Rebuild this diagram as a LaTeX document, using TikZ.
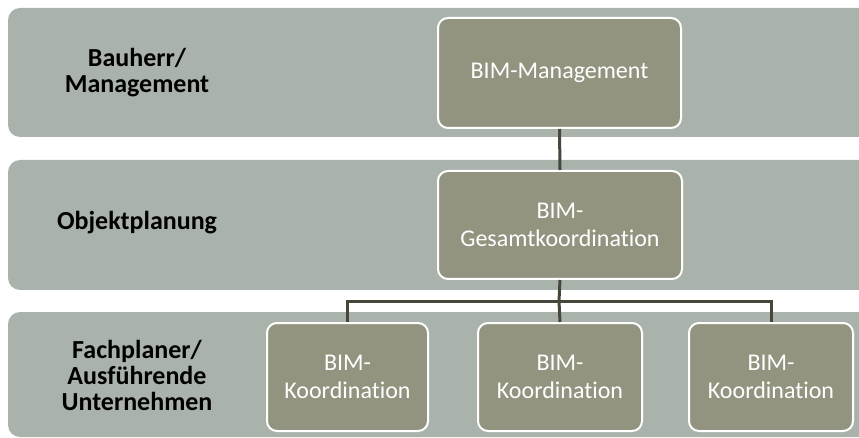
\documentclass[tikz,border=0pt]{standalone}
\usepackage{fontspec}
\setmainfont{Carlito}[RawFeature=-liga]
\definecolor{bandfill}{HTML}{AAB3AB}
\definecolor{boxfill}{HTML}{939480}
\definecolor{linkcol}{HTML}{46463B}
\tikzset{
  band/.style={fill=bandfill, draw=none, rounded corners=12pt},
  rolebox/.style={draw=white, line width=2pt, fill=boxfill, rounded corners=10pt,
    text=white, align=center, inner sep=0pt,
    font=\fontsize{24}{28}\selectfont},
  bandlabel/.style={align=center, font=\bfseries\fontsize{26}{26}\selectfont, text=black},
  link/.style={draw=linkcol, line width=3pt}
}
\begin{document}
\begin{tikzpicture}[x=1pt,y=-1pt]
  \useasboundingbox (0,0) rectangle (859,438);
  % horizontal bands, open to the right edge
  \begin{scope}
    \clip (0,0) rectangle (859,438);
    \fill[band] (8,8) rectangle (880,137);
    \fill[band] (8,160) rectangle (880,290);
    \fill[band] (8,312) rectangle (880,437);
  \end{scope}
  % band labels
  \node[bandlabel] (lab1) at (137,73) {Bauherr/\\Management};
  \node[bandlabel] (lab2) at (137,223) {Objektplanung};
  \node[bandlabel] (lab3) at (137,375) {Fachplaner/\\Ausführende\\Unternehmen};
  % role boxes
  \node[rolebox, minimum width=243pt, minimum height=110pt] (mgmt) at (559.5,73) {BIM-Management};
  \node[rolebox, minimum width=244pt, minimum height=108pt] (gesamt) at (560,225) {BIM-\\Gesamtkoordination};
  \node[rolebox, minimum width=161pt, minimum height=108pt] (k1) at (347.5,377) {BIM-\\Koordination};
  \node[rolebox, minimum width=164pt, minimum height=108pt] (k2) at (560,377) {BIM-\\Koordination};
  \node[rolebox, minimum width=164pt, minimum height=108pt] (k3) at (771,377) {BIM-\\Koordination};
  % connectors
  \coordinate (bus) at (559,301);
  \draw[link] (mgmt.south) -- (gesamt.north);
  \draw[link] (gesamt.south) -- (bus);
  \draw[link] (k1.north) |- (bus) -| (k3.north);
  \draw[link] (bus) -- (k2.north);
\end{tikzpicture}
\end{document}
